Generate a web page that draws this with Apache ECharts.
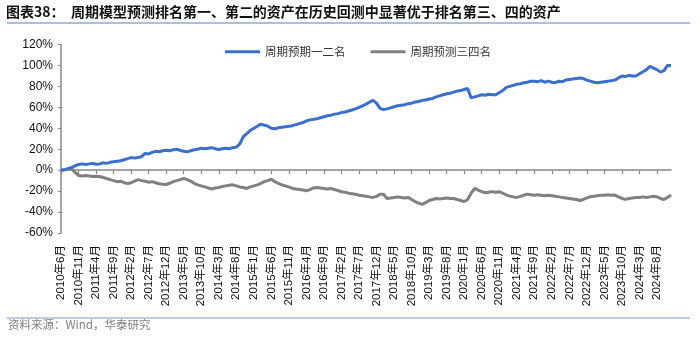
<!DOCTYPE html>
<html>
<head>
<meta charset="utf-8">
<script src="https://cdn.jsdelivr.net/npm/echarts@6/dist/echarts.min.js"></script>
<style>
html,body{margin:0;padding:0;background:#fff;}
#chart{width:700px;height:342px;}
</style>
</head>
<body>
<div id="chart"></div>
<script>
// Monthly categories: 2010年6月 ... 2024年12月
var startYear = 2010, startMonth = 6, monthCount = 175;
var categories = [];
for (var k = 0; k < monthCount; k++) {
  var m = startMonth - 1 + k;
  categories.push((startYear + Math.floor(m / 12)) + '年' + (m % 12 + 1) + '月');
}

var seriesNames = ['周期预期一二名', '周期预测三四名'];

// 周期预期一二名 (%)
var top12 = [
  0, 0.5, 1.5, 2.5, 4, 5.5, 6, 5.5, 6, 6.5,
  5.7, 6, 7, 6.5, 7.5, 8, 8.5, 9, 10, 11,
  12, 11.5, 12, 13, 16, 15.5, 17, 18, 17.5, 18.5,
  19, 18.5, 19.5, 20, 19, 18, 17.5, 18.5, 19.5, 20,
  21, 20.5, 21, 21.5, 20.5, 19.7, 20.5, 21, 20.5, 21.5,
  22, 25, 32, 35, 38, 40, 42, 44, 43, 42,
  40, 39.5, 40.5, 41, 41.5, 42, 42.5, 43.5, 44.5, 45.5,
  47, 48, 48.5, 49, 50, 51, 52, 52.5, 53.5, 54,
  55, 55.5, 56.5, 57.5, 58.5, 60, 61.5, 63, 65, 66.7,
  64, 59, 57.8, 58.5, 59.5, 60.5, 61.5, 62, 62.5, 63.5,
  64, 65, 65.5, 66.7, 67, 68, 68.5, 70, 71, 72,
  73, 73.5, 74.5, 75.5, 76, 77, 78, 69, 70, 71,
  72, 71.5, 72.5, 72, 72, 74, 76, 79, 80, 81,
  82, 82.5, 83.5, 84, 85, 85, 84.5, 85.5, 84, 85,
  84, 83.5, 85, 84.5, 86, 86.5, 87, 87.5, 88, 87.5,
  86, 85, 84, 83.5, 84, 84.5, 85, 85.5, 86, 88,
  90, 89.5, 90.5, 90, 90, 92, 94, 96, 99, 97.5,
  96, 93.6, 95, 100, 100
];

// 周期预测三四名 (%)
var rank34 = [
  0, 0.5, 1, 1.5, -2, -5, -5.5, -5, -5.5, -6,
  -5.7, -6, -7, -8, -9, -10, -11, -10.5, -12, -12.7,
  -12, -10.5, -9, -10, -10.5, -11.5, -11, -12, -13, -13.5,
  -13.7, -12.5, -11, -10, -9, -8, -9, -10.5, -12.5, -14,
  -15, -16, -17, -18, -17, -16.5, -15.5, -15, -14.5, -14,
  -15, -16, -16.5, -17.5, -16, -15, -14, -12.7, -11, -10,
  -8.6, -11, -12.5, -14, -15, -16, -17.5, -18, -18.5, -19,
  -19.7, -18.5, -17, -16.5, -17, -17.5, -18, -17.5, -18.5, -19.5,
  -20.6, -21, -22, -22.5, -23, -24, -24.5, -25, -25.5, -26,
  -25, -23, -23, -27, -26.5, -26, -25.5, -26, -26.5, -26,
  -28, -30, -31.5, -32.7, -31, -29, -28, -27, -27.5, -27,
  -26.5, -27, -27, -28, -29, -30, -28, -22, -17.5, -19,
  -20.5, -21.6, -21, -20.5, -21, -20.6, -22, -23.5, -24.8, -25.5,
  -26, -25, -24, -22.9, -23.5, -24, -23.5, -24, -24.5, -24,
  -24.4, -25, -25.5, -26, -26.5, -27, -27.5, -28, -29, -28,
  -26.5, -25.4, -25, -24.5, -24, -24, -23.5, -24, -23.8, -25.5,
  -27, -27.9, -27, -26.5, -26, -26, -25.5, -26, -25.5, -25,
  -25.4, -27, -28, -26, -23.8
];

var titleText = '图表38：  周期模型预测排名第一、第二的资产在历史回测中显著优于排名第三、四的资产';
var sourceText = '资料来源：Wind，华泰研究';

var chart = echarts.init(document.getElementById('chart'), null, {renderer: 'canvas'});
var cjk = '"Liberation Sans", Arial, "Noto Sans CJK SC", sans-serif';
var axisGray = '#888888';

chart.setOption({
  animation: false,
  backgroundColor: '#ffffff',
  title: {
    text: titleText,
    left: 6, top: 5, padding: 0,
    textStyle: {fontFamily: '"Noto Sans CJK SC", sans-serif', fontSize: 14, fontWeight: 'bold', color: '#111'}
  },
  graphic: [
    {type: 'line', shape: {x1: 7, y1: 23, x2: 690, y2: 23}, style: {stroke: '#8eaad8', lineWidth: 1.5}},
    {type: 'line', shape: {x1: 7, y1: 318, x2: 690, y2: 318}, style: {stroke: '#a9bcd8', lineWidth: 1.5}},
    {type: 'text', left: 8, top: 319, style: {text: sourceText, fontSize: 11.5, fill: '#808080', fontFamily: '"Noto Sans CJK SC", sans-serif'}}
  ],
  legend: {
    left: 220, top: 41,
    itemWidth: 35, itemHeight: 3, itemGap: 25,
    icon: 'rect',
    textStyle: {fontFamily: '"Noto Sans CJK SC", sans-serif', fontSize: 11.5, color: '#333'},
    data: seriesNames
  },
  grid: {left: 61, right: 29, top: 44.5, bottom: 109, containLabel: false},
  xAxis: [
    {
      type: 'category', data: categories, boundaryGap: false, position: 'bottom',
      axisLine: {show: false, onZero: false},
      axisTick: {show: false},
      axisLabel: {interval: 4, rotate: 90, margin: 12, fontSize: 11.5, color: '#111', fontFamily: cjk},
      splitLine: {show: false}
    },
    {
      type: 'category', data: categories, boundaryGap: false, position: 'bottom',
      axisLine: {show: true, onZero: true, lineStyle: {color: axisGray, width: 1.5}},
      axisTick: {show: true, interval: 4, length: 4, lineStyle: {color: axisGray, width: 1.2}},
      axisLabel: {show: false},
      splitLine: {show: false}
    }
  ],
  yAxis: {
    type: 'value', min: -60, max: 120, interval: 20,
    axisLine: {show: true, lineStyle: {color: axisGray, width: 1.5}},
    axisTick: {show: true, length: 3, lineStyle: {color: axisGray}},
    axisLabel: {formatter: '{value}%', fontSize: 12, color: '#111', margin: 8, fontFamily: cjk},
    splitLine: {show: false}
  },
  series: [
    {name: seriesNames[0], type: 'line', xAxisIndex: 0, data: top12, symbol: 'none',
     lineStyle: {width: 3, color: '#3b6fcc'}, itemStyle: {color: '#3b6fcc'}, z: 3},
    {name: seriesNames[1], type: 'line', xAxisIndex: 0, data: rank34, symbol: 'none',
     lineStyle: {width: 3, color: '#808080'}, itemStyle: {color: '#808080'}, z: 2}
  ]
});
</script>
</body>
</html>
